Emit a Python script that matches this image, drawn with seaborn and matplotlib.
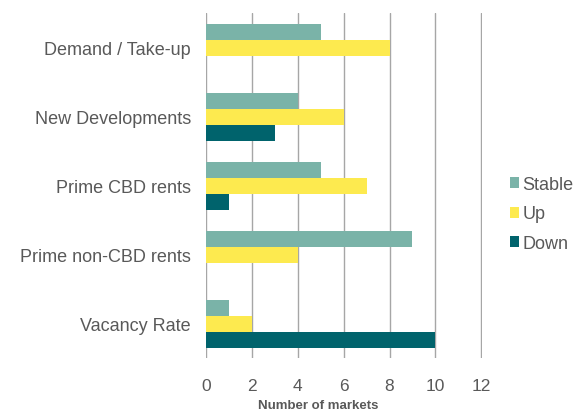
import pandas as pd
import matplotlib.pyplot as plt
import seaborn as sns

categories = ["Demand / Take-up", "New Developments", "Prime CBD rents",
              "Prime non-CBD rents", "Vacancy Rate"]
stable = [5, 4, 5, 9, 1]
up = [8, 6, 7, 4, 2]
down = [0, 3, 1, 0, 10]
series = ["Stable", "Up", "Down"]
colors = ["#7ab3a8", "#fdea4f", "#00636c"]

df = pd.DataFrame({
    "category": categories * 3,
    "series": [s for s in series for _ in categories],
    "value": stable + up + down,
})

sns.set_style("white")
plt.rcParams["font.family"] = ["Liberation Sans", "DejaVu Sans"]
TXT = "#595959"

fig = plt.figure(figsize=(5.87, 4.14), dpi=100)
ax = fig.add_axes([0.351, 0.132, 0.47, 0.833])
sns.barplot(df, x="value", y="category", hue="series", hue_order=series,
            palette=colors, width=0.695, orient="h", saturation=1,
            order=categories, ax=ax, edgecolor="none")

ax.set_xlim(0, 12.03)
ax.set_xticks(range(0, 13, 2))
ax.xaxis.grid(True, color="#a6a6a6", linewidth=1)
ax.set_axisbelow(True)
for s in ax.spines.values():
    s.set_visible(False)
ax.tick_params(axis="x", length=0, pad=14, labelsize=12.5, labelcolor=TXT)
ax.tick_params(axis="y", length=0, pad=11, labelsize=13, labelcolor=TXT)
ax.set_ylabel("")
ax.set_xlabel("Number of markets", fontsize=9.5, fontweight="bold", color=TXT,
              family=["Liberation Sans Narrow", "Liberation Sans"])
ax.xaxis.set_label_coords((318 - 206) / 276, -0.117)

ax.legend(loc="center left", bbox_to_anchor=(0.868, 1 - 215 / 414),
          bbox_transform=fig.transFigure, frameon=False,
          fontsize=13, labelcolor=TXT, handlelength=0.55, handleheight=0.55,
          handletextpad=0.15, labelspacing=0.68, borderpad=0, borderaxespad=0)

plt.savefig("out.png", dpi=100)
